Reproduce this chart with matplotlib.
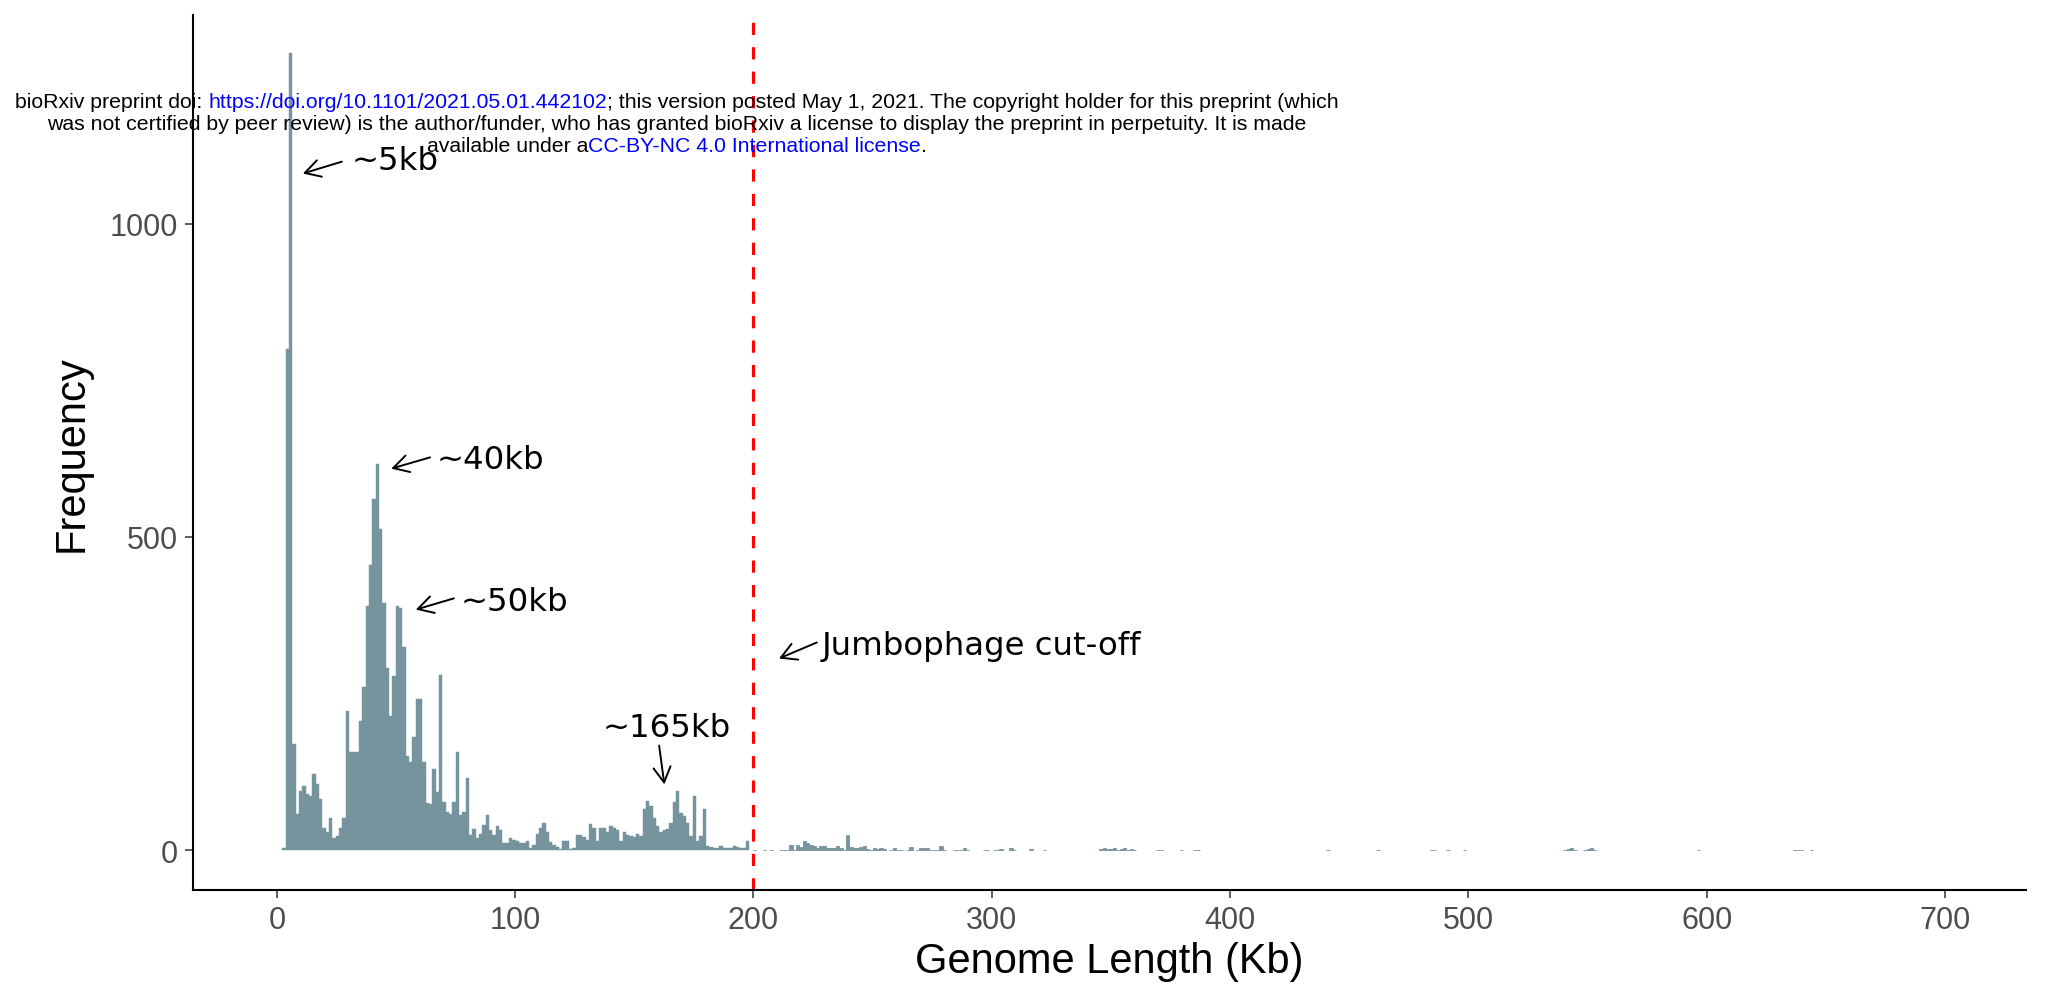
import matplotlib
matplotlib.use("Agg")
import matplotlib.pyplot as plt
import numpy as np

# ---------------- data ----------------
BIN_START_KB = 2.24
BIN_WIDTH_KB = 1.4

# counts of consecutive 1.4 kb bins starting at 2.24 kb (up to ~198 kb)
counts_main = [
    4, 800, 1272, 169, 58, 95, 102, 89, 87, 121,
    106, 82, 35, 29, 52, 20, 22, 35, 52, 222,
    156, 156, 157, 206, 261, 389, 456, 561, 616, 513,
    395, 291, 215, 278, 389, 386, 325, 151, 141, 180,
    242, 242, 140, 76, 74, 129, 93, 279, 77, 61,
    58, 77, 156, 56, 61, 116, 25, 34, 19, 26,
    41, 56, 32, 24, 39, 32, 11, 11, 20, 16,
    14, 11, 11, 14, 4, 8, 26, 35, 44, 29,
    13, 8, 5, 2, 15, 14, 2, 3, 24, 24,
    21, 17, 42, 35, 15, 36, 36, 29, 39, 35,
    32, 14, 29, 24, 22, 21, 26, 22, 66, 79,
    71, 51, 38, 29, 32, 34, 43, 77, 94, 60,
    55, 43, 22, 86, 14, 22, 66, 6, 5, 3,
    3, 6, 3, 3, 3, 7, 5, 3, 3, 14,
]

# sparse tail beyond the cut-off: bin centres (kb) and counts
tail_kb = [
    200.3, 204.5, 207.3, 211.5, 212.9, 214.3, 215.7, 217.1, 218.5, 219.9,
    221.3, 222.7, 224.1, 225.5, 226.9, 228.3, 229.7, 231.1, 232.5, 233.9,
    235.3, 236.7, 238.1, 239.5, 240.9, 242.3, 243.7, 245.1, 246.5, 247.9,
    249.3, 250.7, 252.1, 253.5, 254.9, 257.7, 259.1, 260.5, 261.9, 264.7,
    266.1, 268.9, 270.3, 271.7, 273.1, 274.5, 275.9, 277.3, 278.7, 280.1,
    284.3, 285.7, 287.1, 288.5, 289.9, 296.9, 298.3, 301.1, 302.5, 303.9,
    308.1, 309.5, 316.5, 322.1, 345.9, 347.3, 348.7, 350.1, 351.5, 352.9,
    354.3, 355.7, 357.1, 358.5, 359.9, 369.7, 371.1, 379.5, 385.1, 386.5,
    441.1, 462.1, 484.5, 485.9, 491.5, 498.5, 540.5, 541.9, 543.3, 544.7,
    548.9, 550.3, 551.7, 553.1, 596.5, 637.1, 638.5, 639.9, 644.1,
]
tail_counts = [
    1, 1, 1, 1, 1, 1, 8, 1, 9, 5,
    15, 11, 9, 7, 4, 6, 6, 4, 3, 4,
    7, 3, 1, 24, 5, 3, 4, 5, 6, 2,
    1, 4, 2, 4, 2, 1, 3, 1, 1, 1,
    5, 1, 4, 3, 4, 1, 1, 1, 6, 1,
    1, 1, 1, 3, 1, 1, 1, 1, 1, 2,
    3, 1, 2, 1, 2, 3, 2, 2, 3, 1,
    2, 3, 1, 2, 1, 1, 1, 1, 1, 1,
    1, 1, 1, 1, 1, 1, 1, 2, 4, 1,
    1, 2, 3, 1, 1, 1, 1, 1, 1,
]

x_ticks = [0, 100, 200, 300, 400, 500, 600, 700]
y_ticks = [0, 500, 1000]
cutoff_kb = 200

# annotations: (label, text x, text y, ha, arrow tail, arrow tip)
annotations = [
    ("~5kb", 31.5, 1101, "left", (27.3, 1099), (10.9, 1080)),
    ("~40kb", 67.0, 623, "left", (64.3, 627), (48.0, 609)),
    ("~50kb", 77.3, 397, "left", (74.3, 402), (58.3, 384)),
    ("Jumbophage cut-off", 228.7, 327, "left", (226.6, 331.6), (210.7, 306)),
    ("~165kb", 163.5, 196, "center", (160.4, 167), (162.6, 105)),
]

header_lines = [
    [("bioRxiv preprint doi: ", "black"),
     ("https://doi.org/10.1101/2021.05.01.442102", "#0000FF"),
     ("; this version posted May 1, 2021. The copyright holder for this preprint (which", "black")],
    [("was not certified by peer review) is the author/funder, who has granted bioRxiv a license to display the preprint in perpetuity. It is made", "black")],
    [("available under a", "black"),
     ("CC-BY-NC 4.0 International license", "#0000FF"),
     (".", "black")],
]

# ---------------- figure ----------------
W, H = 2046, 987
fig = plt.figure(figsize=(W / 100, H / 100), dpi=100)
ax = fig.add_axes([193 / W, 1 - 891 / H, (2026 - 193) / W, (891 - 15.7) / H])

bar_color = "#76949E"
left_edges = BIN_START_KB + BIN_WIDTH_KB * np.arange(len(counts_main))
ax.bar(left_edges, counts_main, width=BIN_WIDTH_KB, align="edge",
       color=bar_color, edgecolor=bar_color, linewidth=0.3)
ax.bar(tail_kb, tail_counts, width=BIN_WIDTH_KB, align="center",
       color=bar_color, edgecolor=bar_color, linewidth=0.6)

ax.axvline(cutoff_kb, color="#FF0000", lw=2.2, linestyle=(0, (4, 4)))

ax.set_xlim(-35.2, 734)
ax.set_ylim(-63.5, 1333.5)
ax.set_xticks(x_ticks)
ax.set_yticks(y_ticks)
for s in ("top", "right"):
    ax.spines[s].set_visible(False)
for s in ("left", "bottom"):
    ax.spines[s].set_color("black")
    ax.spines[s].set_linewidth(1.5)
ax.tick_params(length=6, width=1.1, color="#333333", labelsize=22,
               labelcolor="#4D4D4D", pad=5)
for lab in ax.get_xticklabels() + ax.get_yticklabels():
    lab.set_family("Liberation Sans")

fig.text(1109.5 / W, 1 - 962 / H, "Genome Length (Kb)", ha="center",
         va="center", fontsize=30, family="Liberation Sans", color="black")
fig.text(72 / W, 1 - 453.5 / H, "Frequency", ha="center", va="center",
         rotation=90, fontsize=30, family="Liberation Sans", color="black")

for label, tx, ty, ha, tail, tip in annotations:
    ax.annotate("", xy=tip, xytext=tail,
                arrowprops=dict(arrowstyle="->,head_length=0.5,head_width=0.28",
                                lw=1.4, color="black", shrinkA=0, shrinkB=0,
                                mutation_scale=22))
    ax.text(tx, ty, label, ha=ha, va="center", fontsize=23.3,
            family="DejaVu Sans", color="black")

# header (preprint notice) with mixed colours, centred lines
renderer = fig.canvas.get_renderer()
hdr_size = 15.3
hdr_family = "Liberation Sans"
header_y = [102, 124.5, 146]


def text_width(s):
    t = fig.text(0, 0, s + "x", fontsize=hdr_size, family=hdr_family)
    t2 = fig.text(0, 0, "x", fontsize=hdr_size, family=hdr_family)
    w = t.get_window_extent(renderer).width - t2.get_window_extent(renderer).width
    t.remove()
    t2.remove()
    return w


xc = 677
for parts, yy in zip(header_lines, header_y):
    full = "".join(p for p, _ in parts)
    total = text_width(full)
    x0 = xc - total / 2
    prefix = ""
    for s, c in parts:
        xoff = text_width(prefix) if prefix else 0
        fig.text((x0 + xoff) / W, 1 - yy / H, s, color=c, fontsize=hdr_size,
                 family=hdr_family, ha="left", va="center")
        prefix += s

fig.savefig("out.png", dpi=100)
